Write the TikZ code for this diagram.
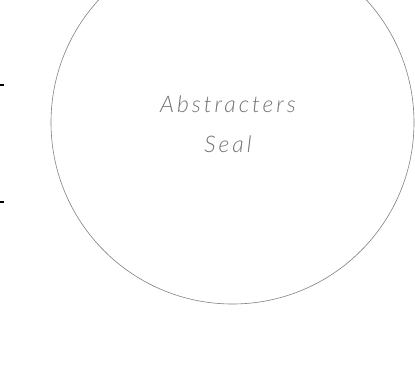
\documentclass[tikz,border=0pt]{standalone}
\usepackage{fontspec}
\newfontfamily\sealfont[LetterSpace=13]{Lato Light Italic}
\begin{document}
\begin{tikzpicture}[x=1bp,y=1bp,
  sealtext/.style={font=\sealfont\fontsize{23}{28}\selectfont, text=black!55, inner sep=0pt, anchor=base},
  tick/.style={line width=2bp, black}]
\useasboundingbox (0,0) rectangle (415,371);
\clip (0,0) rectangle (415,371);
\node[circle, draw=black!50, line width=0.6bp, minimum size=363bp, inner sep=0pt] (seal) at (232.5,248.5) {};
\node[sealtext] (t1) at (228,259) {Abstracters};
\node[sealtext] (t2) at (228,219) {Seal};
\coordinate (a1) at (0,286);
\coordinate (a2) at (4.5,286);
\coordinate (b1) at (0,169);
\coordinate (b2) at (4.5,169);
\draw[tick] (a1) -- (a2);
\draw[tick] (b1) -- (b2);
\end{tikzpicture}
\end{document}
